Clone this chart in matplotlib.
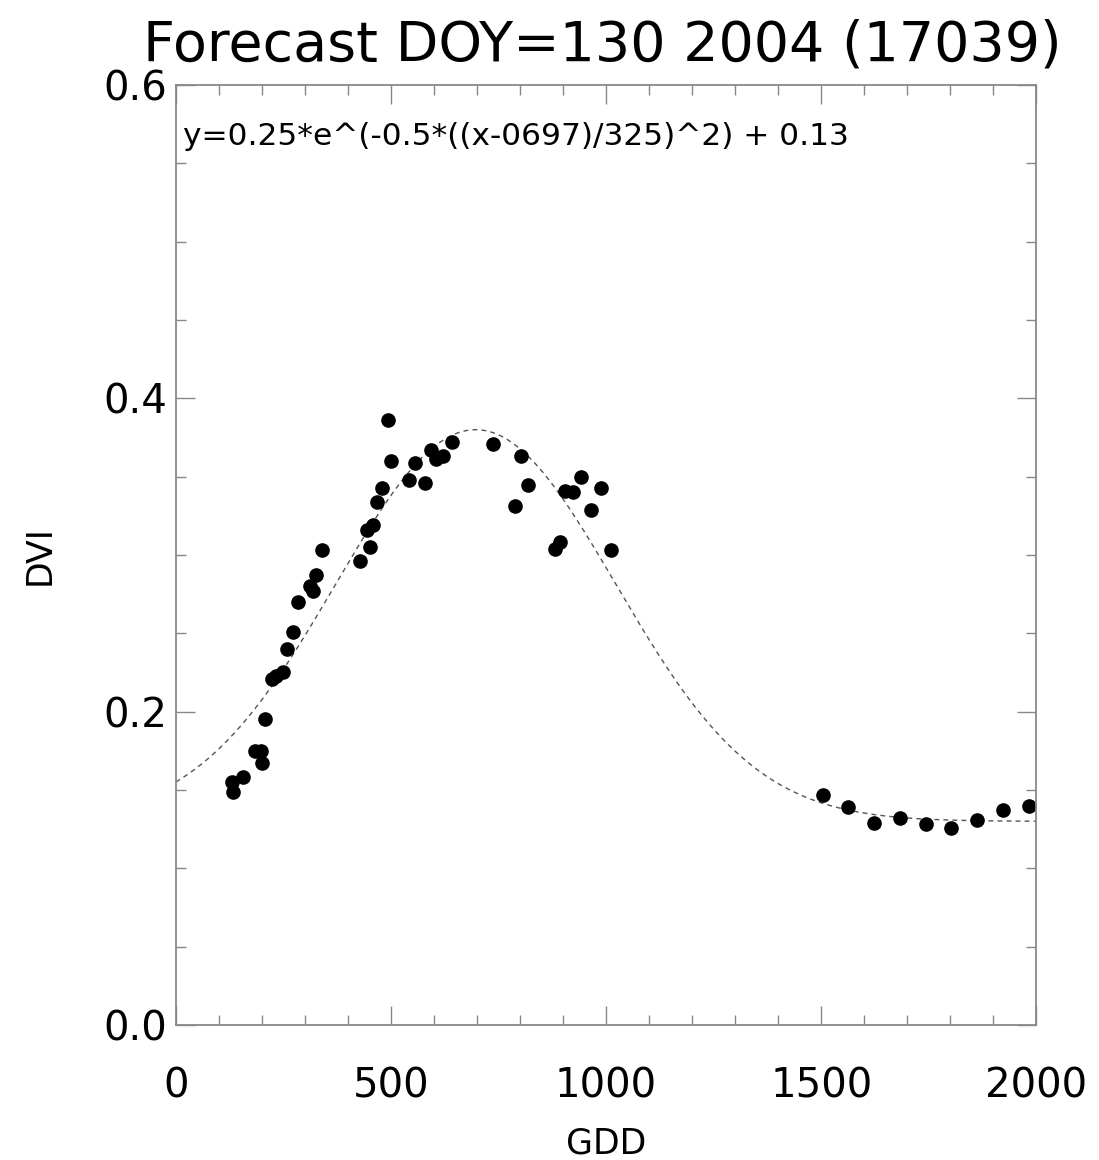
import numpy as np
import matplotlib
matplotlib.use("Agg")
import matplotlib.pyplot as plt
from matplotlib.ticker import MultipleLocator

title = "Forecast DOY=130 2004 (17039)"
equation = "y=0.25*e^(-0.5*((x-0697)/325)^2) + 0.13"
x_label = "GDD"
y_label = "DVI"

gdd = [130, 133, 156, 184, 197, 200, 207, 223, 232, 249, 258, 272, 284, 312, 319,
       326, 340, 428, 444, 451, 458, 467, 479, 493, 500, 542, 556, 579, 593, 605,
       621, 642, 737, 788, 802, 819, 881, 893, 905, 923, 941, 964, 988, 1012,
       1505, 1562, 1623, 1684, 1744, 1802, 1863, 1923, 1984]
dvi = [0.155, 0.149, 0.158, 0.175, 0.175, 0.167, 0.195, 0.221, 0.223, 0.225, 0.240,
       0.251, 0.270, 0.280, 0.277, 0.287, 0.303, 0.296, 0.316, 0.305, 0.319, 0.334,
       0.343, 0.386, 0.360, 0.348, 0.359, 0.346, 0.367, 0.361, 0.363, 0.372, 0.371,
       0.331, 0.363, 0.345, 0.304, 0.308, 0.341, 0.340, 0.350, 0.329, 0.343, 0.303,
       0.147, 0.139, 0.129, 0.132, 0.128, 0.126, 0.131, 0.137, 0.140]

amp, center, width, offset = 0.25, 697.0, 325.0, 0.13

fig = plt.figure(figsize=(10.99, 11.60), dpi=100)
ax = fig.add_axes([0.160, 0.1164, 0.783, 0.8103])

xf = np.linspace(0, 2000, 400)
yf = amp * np.exp(-0.5 * ((xf - center) / width) ** 2) + offset
ax.plot(xf, yf, linestyle=(0, (3.5, 3)), color="#555555", linewidth=1.0)
ax.plot(gdd, dvi, linestyle="none", marker="o", markersize=9.5, color="black")

ax.set_xlim(0, 2000)
ax.set_ylim(0, 0.6)
ax.xaxis.set_major_locator(MultipleLocator(500))
ax.xaxis.set_minor_locator(MultipleLocator(100))
ax.yaxis.set_major_locator(MultipleLocator(0.2))
ax.yaxis.set_minor_locator(MultipleLocator(0.05))
ax.set_xticks([0, 500, 1000, 1500, 2000])
ax.set_xticklabels(["0", "500", "1000", "1500", "2000"])
ax.set_yticks([0.0, 0.2, 0.4, 0.6])
ax.set_yticklabels(["0.0", "0.2", "0.4", "0.6"])

for s in ax.spines.values():
    s.set_color("#888888")
    s.set_linewidth(1.3)
ax.tick_params(which="both", direction="in", top=True, right=True, color="#888888", width=1.0)
ax.tick_params(which="major", length=14, labelsize=29)
ax.tick_params(axis="x", which="major", pad=30)
ax.tick_params(axis="y", which="major", pad=6)
ax.tick_params(which="minor", length=7)

ax.set_xlabel(x_label, fontsize=25, labelpad=14)
ax.set_ylabel(y_label, fontsize=25, labelpad=34)
fig.text(0.548, 0.961, title, fontsize=40, ha="center", va="center")
ax.text(0.008, 0.945, equation, transform=ax.transAxes, fontsize=22.5, ha="left", va="center")

fig.savefig("out.png", dpi=100)
